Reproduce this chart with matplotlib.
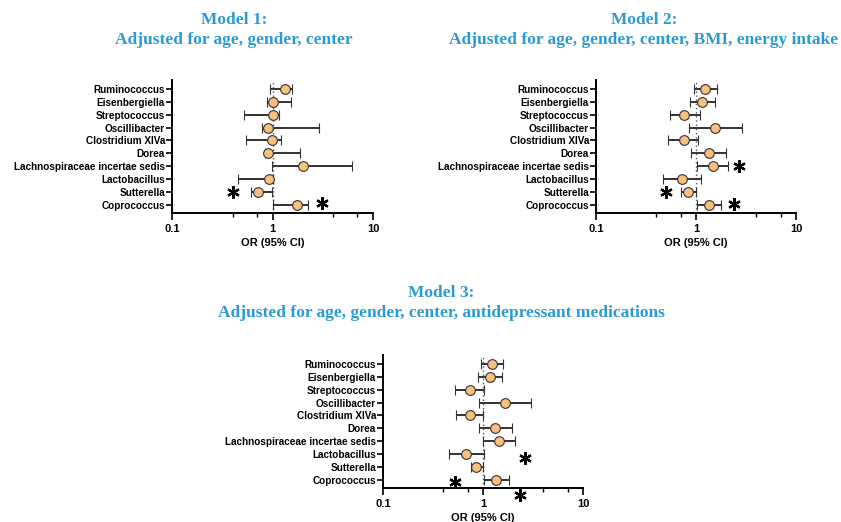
import numpy as np
import matplotlib.pyplot as plt
from matplotlib.ticker import FixedLocator, NullFormatter

taxa = ["Ruminococcus", "Eisenbergiella", "Streptococcus", "Oscillibacter",
        "Clostridium XIVa", "Dorea", "Lachnospiraceae incertae sedis",
        "Lactobacillus", "Sutterella", "Coprococcus"]

# odds ratios with lower / upper 95% CI, one list per model (top row first)
or_m1 = [1.33, 1.02, 1.02, 0.91, 0.99, 0.91, 2.03, 0.93, 0.72, 1.74]
lo_m1 = [0.94, 0.88, 0.52, 0.78, 0.54, 0.84, 0.98, 0.45, 0.61, 1.01]
hi_m1 = [1.56, 1.54, 1.17, 2.93, 1.21, 1.89, 6.20, 1.00, 0.99, 2.24]

or_m2 = [1.23, 1.16, 0.76, 1.56, 0.75, 1.35, 1.47, 0.73, 0.83, 1.35]
lo_m2 = [0.95, 0.87, 0.55, 0.86, 0.53, 0.89, 1.02, 0.47, 0.71, 1.02]
hi_m2 = [1.61, 1.55, 1.09, 2.88, 1.05, 2.01, 2.10, 1.13, 1.00, 1.79]

or_m3 = [1.24, 1.17, 0.74, 1.65, 0.74, 1.32, 1.45, 0.68, 0.86, 1.34]
lo_m3 = [0.96, 0.89, 0.52, 0.91, 0.54, 0.91, 1.00, 0.46, 0.75, 1.02]
hi_m3 = [1.58, 1.55, 1.02, 3.00, 1.00, 1.94, 2.07, 1.02, 1.00, 1.81]

# significance stars (x, row position; row 0 = Coprococcus)
stars_m1 = [(0.40, 1.0), (3.10, 0.12)]
stars_m2 = [(2.69, 3.0), (0.50, 1.0), (2.40, 0.08)]
stars_m3 = [(2.61, 1.67), (0.53, -0.18), (2.33, -1.16)]

titles = ["Model 1:\nAdjusted for age, gender, center",
          "Model 2:\nAdjusted for age, gender, center, BMI, energy intake",
          "Model 3:\nAdjusted for age, gender, center, antidepressant medications"]

plt.rcParams["font.family"] = ["Liberation Sans", "DejaVu Sans"]
title_color = "#2a9ad6"

fig = plt.figure(figsize=(8.41, 5.22), dpi=100)

W, H = 841, 522
boxes = [(172, 80, 373, 213), (596, 80, 796, 213), (383, 355, 583, 488)]
title_pos = [(234, 30), (644, 30), (441, 303)]
models = [(or_m1, lo_m1, hi_m1, stars_m1),
          (or_m2, lo_m2, hi_m2, stars_m2),
          (or_m3, lo_m3, hi_m3, stars_m3)]

for (x0, y0, x1, y1), (tx, ty), title, (ors, lo, hi, stars) in zip(boxes, title_pos, titles, models):
    ax = fig.add_axes([x0 / W, 1 - y1 / H, (x1 - x0) / W, (y1 - y0) / H])
    ors = np.array(ors)
    ypos = np.arange(len(taxa))[::-1]
    err = np.vstack([ors - np.array(lo), np.array(hi) - ors])

    ax.axvline(1, color="#555555", ls=(0, (1, 2)), lw=1.0, zorder=1)
    ax.errorbar(ors, ypos, xerr=err, fmt="o", color="#333333", ecolor="#333333",
                elinewidth=1.4, capsize=3.5, capthick=1.4,
                mfc="#f8bf7e", mec="#333333", mew=0.8, ms=7, zorder=3)
    for sx, sy in stars:
        ax.plot(sx, sy, marker=(6, 2, 0), ms=9, mew=1.6, color="black",
                clip_on=False, zorder=4)

    ax.set_xscale("log")
    ax.set_xlim(0.1, 10)
    ax.set_ylim(-0.65, 9.7)
    ax.set_xticks([0.1, 1, 10])
    ax.set_xticklabels(["0.1", "1", "10"])
    ax.xaxis.set_minor_locator(FixedLocator([0.4, 0.7, 4, 7]))
    ax.xaxis.set_minor_formatter(NullFormatter())
    ax.set_yticks(ypos)
    ax.set_yticklabels(taxa)
    for side in ["top", "right"]:
        ax.spines[side].set_visible(False)
    for side in ["left", "bottom"]:
        ax.spines[side].set_linewidth(1.4)
    ax.tick_params(axis="y", length=4, width=1.2, pad=1, labelsize=7.2)
    ax.tick_params(axis="x", which="major", length=5, width=1.2, pad=3, labelsize=8)
    ax.tick_params(axis="x", which="minor", length=3, width=1.0)
    for lbl in ax.get_xticklabels() + ax.get_yticklabels():
        lbl.set_fontweight("bold")
    ax.set_xlabel("OR (95% CI)", fontsize=8, fontweight="bold", labelpad=3)

    fig.text(tx / W, 1 - ty / H, title, ha="center", va="center",
             family="Liberation Serif", fontweight="bold", fontsize=12.5,
             color=title_color, linespacing=1.35)

fig.savefig("out.png", dpi=100)
